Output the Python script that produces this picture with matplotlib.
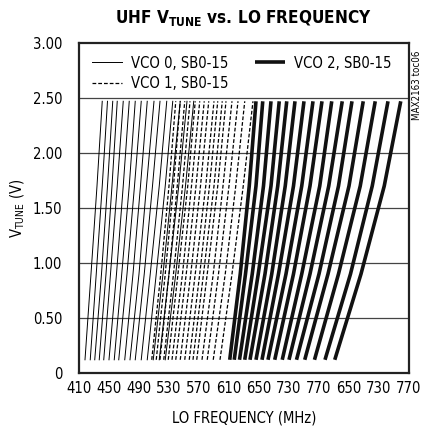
import matplotlib
matplotlib.use('Agg')
import matplotlib.pyplot as plt
from matplotlib import font_manager as fm

# pick the narrowest sans that is installed
entries = fm.fontManager.ttflist
names = {f.name for f in entries}
stretch = 'normal'
if 'Liberation Sans Narrow' in names:
    base = 'Liberation Sans Narrow'
elif any(f.name == 'DejaVu Sans' and str(f.stretch) == 'condensed' for f in entries):
    base = 'DejaVu Sans'
    stretch = 'condensed'
else:
    base = 'Liberation Sans'
plt.rcParams['font.family'] = [base, 'DejaVu Sans']
plt.rcParams['font.stretch'] = stretch
plt.rcParams['mathtext.default'] = 'regular'

# tuning voltage where each curve was read
vtune = [0.12, 0.9, 1.7, 2.47]

# LO frequency (MHz) of each sub-band (SB0-15) at the vtune points
vco0 = [
    [418, 426, 434, 441],
    [425, 433, 441, 448],
    [431, 440, 448, 455],
    [437, 446, 454, 461],
    [443, 452, 461, 469],
    [450, 460, 469, 477],
    [457, 467, 477, 485],
    [463, 474, 484, 493],
    [471, 482, 492, 501],
    [478, 490, 500, 510],
    [485, 497, 508, 518],
    [493, 505, 517, 527],
    [501, 513, 525, 535],
    [509, 522, 534, 545],
    [517, 530, 543, 554],
    [525, 539, 552, 563],
]
vco1 = [
    [507, 519, 530, 539],
    [513, 525, 536, 545],
    [518, 530, 541, 551],
    [523, 536, 548, 558],
    [529, 542, 555, 565],
    [534, 548, 560, 571],
    [539, 553, 566, 577],
    [545, 559, 572, 583],
    [551, 565, 579, 590],
    [557, 571, 584, 595],
    [562, 576, 590, 601],
    [567, 581, 595, 606],
    [574, 589, 602, 614],
    [581, 596, 610, 622],
    [589, 605, 619, 631],
    [598, 614, 629, 642],
]
vco2 = [
    [611, 625, 637, 646],
    [617, 632, 646, 655],
    [624, 641, 656, 666],
    [631, 649, 666, 677],
    [638, 658, 675, 687],
    [646, 667, 685, 698],
    [654, 676, 696, 710],
    [662, 686, 707, 722],
    [671, 696, 718, 734],
    [681, 707, 731, 747],
    [690, 718, 743, 761],
    [700, 730, 756, 774],
    [711, 742, 770, 789],
    [724, 756, 785, 805],
    [738, 772, 801, 822],
    [751, 786, 817, 839],
]

xticks = [410, 450, 490, 530, 570, 610, 650, 690, 730, 770, 810, 850]
xlabels = ['410', '450', '490', '530', '570', '610', '650', '730', '770', '650', '730', '770']
yticks = [0, 0.5, 1.0, 1.5, 2.0, 2.5, 3.0]
ylabels = ['0', '0.50', '1.00', '1.50', '2.00', '2.50', '3.00']

fs = 10.6
fig = plt.figure(figsize=(4.24, 4.33), dpi=100)
ax = fig.add_axes([0.1863, 0.1386, 0.7783, 0.7621])

for i, row in enumerate(vco0):
    ax.plot(row, vtune, color='black', lw=0.7, label='VCO 0, SB0-15' if i == 0 else None)
for i, row in enumerate(vco1):
    ax.plot(row, vtune, color='black', lw=0.9, linestyle=(0, (3, 1.6)),
            label='VCO 1, SB0-15' if i == 0 else None)
for i, row in enumerate(vco2):
    ax.plot(row, vtune, color='#111111', lw=2.6, solid_capstyle='butt',
            label='VCO 2, SB0-15' if i == 0 else None)

ax.set_xlim(410, 850)
ax.set_ylim(0, 3.0)
ax.set_xticks(xticks)
ax.set_xticklabels(xlabels)
ax.set_yticks(yticks)
ax.set_yticklabels(ylabels)
ax.tick_params(length=0, labelsize=fs)
ax.tick_params(axis='y', pad=12)
ax.tick_params(axis='x', pad=6)
for y in yticks[1:-1]:
    ax.axhline(y, color='#444444', lw=0.9, zorder=0)
for s in ax.spines.values():
    s.set_linewidth(1.6)
    s.set_color('#222222')

ax.set_xlabel('LO FREQUENCY (MHz)', fontsize=fs, labelpad=10)
ax.set_ylabel('V$_{TUNE}$ (V)', fontsize=fs, labelpad=4)
fig.text(0.574, 0.959, 'UHF V$_{TUNE}$ vs. LO FREQUENCY', fontweight='bold',
         ha='center', va='center', fontsize=12.3)
fig.text(0.983, 0.804, 'MAX2163 toc06', rotation=90, ha='center', va='center', fontsize=7)

ax.legend(loc='upper left', bbox_to_anchor=(0.0, 1.0), ncol=2, frameon=False,
          fontsize=fs, handlelength=2.1, columnspacing=1.8, labelspacing=0.35,
          handletextpad=0.55, borderaxespad=0.65, borderpad=0.2)

fig.savefig('out.png', dpi=100)
